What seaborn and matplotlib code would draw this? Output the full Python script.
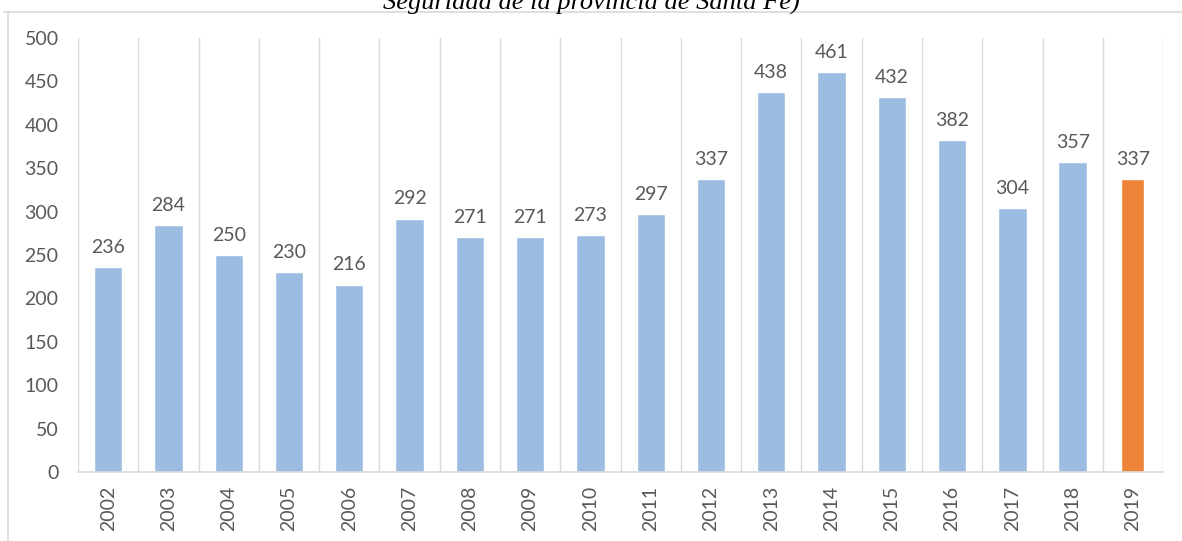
import numpy as np
import pandas as pd
import matplotlib.pyplot as plt
import seaborn as sns
from matplotlib.lines import Line2D

# data
years = ['2002', '2003', '2004', '2005', '2006', '2007', '2008', '2009', '2010',
         '2011', '2012', '2013', '2014', '2015', '2016', '2017', '2018', '2019']
values = [236, 284, 250, 230, 216, 292, 271, 271, 273,
          297, 337, 438, 461, 432, 382, 304, 357, 337]
bar_colors = ['#9DBCE1'] * 17 + ['#ED843A']

sns.set_theme(style='white')
plt.rcParams['font.family'] = ['Lato', 'DejaVu Sans']

df = pd.DataFrame({'year': years, 'value': values})

fig = plt.figure(figsize=(11.82, 5.41), dpi=100)
ax = fig.add_axes([0.066, 0.1275, 0.918, 0.8023])

sns.barplot(data=df, x='year', y='value', hue='year', palette=bar_colors,
            legend=False, width=0.47, saturation=1, ax=ax)

# last bar is a bit narrower in the original
last = ax.patches[-1]
cx = last.get_x() + last.get_width() / 2
last.set_width(0.38)
last.set_x(cx - 0.19)

for c in ax.containers:
    ax.bar_label(c, padding=8, fontsize=14, color='#595959')

ax.set_ylim(0, 500)
ax.set_xlim(-0.5, len(years) - 0.5)
ax.set_yticks(np.arange(0, 501, 50))
ax.set_xlabel('')
ax.set_ylabel('')
ax.tick_params(axis='y', labelsize=14, labelcolor='#595959', length=0, pad=14)
ax.tick_params(axis='x', labelsize=14, labelcolor='#595959', length=0, pad=10,
               labelrotation=90)

# vertical separators between categories
for b in np.arange(-0.5, len(years), 1):
    ax.axvline(b, ymin=0, ymax=1, color='#D9D9D9', lw=1, zorder=0)

for s in ['top', 'right', 'left']:
    ax.spines[s].set_visible(False)
ax.spines['bottom'].set_color('#D9D9D9')
ax.spines['bottom'].set_linewidth(1.2)

# frame lines of the cropped figure
fig.add_artist(Line2D([0.003, 1.0], [0.978, 0.978], color='#D9D9D9', lw=1.2))
fig.add_artist(Line2D([0.007, 0.007], [0.0, 0.978], color='#D9D9D9', lw=1.2))

# cut-off caption at top (cropped in the original too)
fig.text(0.5, 0.993, 'Seguridad de la provincia de Santa Fe)', ha='center',
         va='center', fontsize=19, style='italic', family='Liberation Serif',
         color='black')

fig.savefig('out.png', dpi=100)
